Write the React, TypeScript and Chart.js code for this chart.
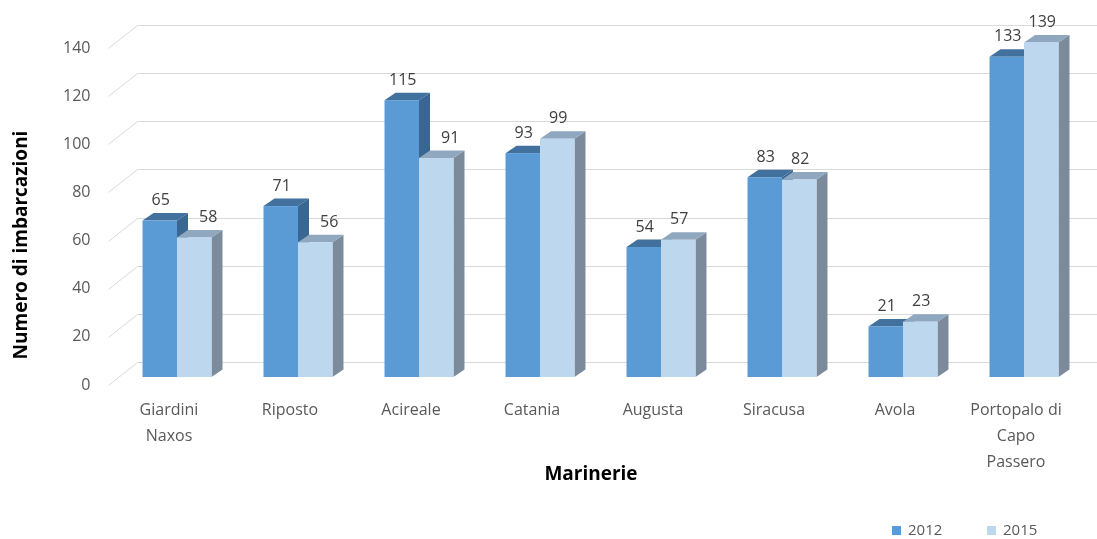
import React, { useEffect, useRef } from 'react';
import { Chart, registerables } from 'chart.js';

Chart.register(...registerables);

const categories: string[][] = [
  ['Giardini', 'Naxos'],
  ['Riposto'],
  ['Acireale'],
  ['Catania'],
  ['Augusta'],
  ['Siracusa'],
  ['Avola'],
  ['Portopalo di', 'Capo', 'Passero'],
];
const seriesNames = ['2012', '2015'];
const values2012 = [65, 71, 115, 93, 54, 83, 21, 133];
const values2015 = [58, 56, 91, 99, 57, 82, 23, 139];
const yTicks = [0, 20, 40, 60, 80, 100, 120, 140];

const FONT = '"Open Sans", "Noto Sans", sans-serif';
const frontColors = ['#5b9bd5', '#bdd7ee'];
const topColors = ['#41719c', '#8fa8bf'];
const sideColors = ['#3a6791', '#7b8b9b'];

// 3D geometry (pixels)
const WALL_DX = 29;
const WALL_DY = 23;
const BAR_SHIFT_X = 8;
const BAR_SHIFT_Y = 8;
const DEPTH_X = 11;
const DEPTH_Y = 7.5;

const bars3d = {
  id: 'bars3d',
  beforeDatasetsDraw(chart: any) {
    const { ctx, chartArea } = chart;
    const y = chart.scales.y;
    ctx.save();
    ctx.strokeStyle = '#d9d9d9';
    ctx.lineWidth = 1;
    for (const v of yTicks) {
      const yf = Math.round(y.getPixelForValue(v)) + 0.5;
      const yb = yf - WALL_DY;
      const xf = chartArea.left;
      ctx.beginPath();
      ctx.moveTo(xf, yf);
      ctx.lineTo(xf + WALL_DX, yb);
      ctx.lineTo(chart.width, yb);
      ctx.stroke();
    }
    ctx.restore();
  },
  beforeDatasetDraw() {
    return false;
  },
  afterDatasetsDraw(chart: any) {
    const { ctx } = chart;
    const n = chart.data.labels.length;
    ctx.save();
    for (let i = 0; i < n; i++) {
      for (let d = 0; d < chart.data.datasets.length; d++) {
        const el = chart.getDatasetMeta(d).data[i];
        const { x, y, base, width } = el.getProps(['x', 'y', 'base', 'width'], true);
        const x0 = x - width / 2 + BAR_SHIFT_X;
        const x1 = x0 + width;
        const yt = y - BAR_SHIFT_Y;
        const yb = base - BAR_SHIFT_Y;
        // side
        ctx.fillStyle = sideColors[d];
        ctx.beginPath();
        ctx.moveTo(x1, yt);
        ctx.lineTo(x1 + DEPTH_X, yt - DEPTH_Y);
        ctx.lineTo(x1 + DEPTH_X, yb - DEPTH_Y);
        ctx.lineTo(x1, yb);
        ctx.closePath();
        ctx.fill();
        // top
        ctx.fillStyle = topColors[d];
        ctx.beginPath();
        ctx.moveTo(x0, yt);
        ctx.lineTo(x1, yt);
        ctx.lineTo(x1 + DEPTH_X, yt - DEPTH_Y);
        ctx.lineTo(x0 + DEPTH_X, yt - DEPTH_Y);
        ctx.closePath();
        ctx.fill();
        // front
        ctx.fillStyle = frontColors[d];
        ctx.fillRect(x0, yt, width, yb - yt);
      }
    }
    // data labels
    ctx.font = '16px ' + FONT;
    ctx.fillStyle = '#404040';
    ctx.textAlign = 'center';
    ctx.textBaseline = 'middle';
    for (let i = 0; i < n; i++) {
      for (let d = 0; d < chart.data.datasets.length; d++) {
        const el = chart.getDatasetMeta(d).data[i];
        const { x, y } = el.getProps(['x', 'y'], true);
        const v = chart.data.datasets[d].data[i];
        let shift = 1;
        if (d === 1) {
          const other = chart.data.datasets[0].data[i];
          if (v < other - 2) shift = 14;
        }
        ctx.fillText(String(v), x + BAR_SHIFT_X + shift, y - BAR_SHIFT_Y - 20);
      }
    }
    ctx.restore();
  },
  afterDraw(chart: any) {
    const { ctx } = chart;
    ctx.save();
    // axis titles
    ctx.fillStyle = '#000000';
    ctx.font = 'bold 19px ' + FONT;
    ctx.textAlign = 'center';
    ctx.textBaseline = 'middle';
    ctx.fillText('Marinerie', 591, 475);
    ctx.translate(22, 245);
    ctx.rotate(-Math.PI / 2);
    ctx.fillText('Numero di imbarcazioni', 0, 0);
    ctx.restore();
    // legend
    ctx.save();
    ctx.font = '15px ' + FONT;
    ctx.textAlign = 'left';
    ctx.textBaseline = 'middle';
    const legendX = [892, 987];
    chart.data.datasets.forEach((ds: any, d: number) => {
      ctx.fillStyle = frontColors[d];
      ctx.fillRect(legendX[d], 526, 9, 9);
      ctx.fillStyle = '#595959';
      ctx.fillText(ds.label, legendX[d] + 16, 531);
    });
    ctx.restore();
  },
};

export default function App() {
  const ref = useRef<HTMLCanvasElement | null>(null);
  useEffect(() => {
    document.body.style.margin = '0';
    const canvas = ref.current;
    if (!canvas) return;
    const chart = new Chart(canvas, {
      type: 'bar',
      data: {
        labels: categories,
        datasets: [
          { label: seriesNames[0], data: values2012, backgroundColor: frontColors[0] },
          { label: seriesNames[1], data: values2015, backgroundColor: frontColors[1] },
        ],
      },
      options: {
        animation: false,
        responsive: true,
        maintainAspectRatio: false,
        layout: { padding: { top: 48, right: 20.5, left: 0, bottom: 0 } },
        datasets: { bar: { categoryPercentage: 0.57, barPercentage: 1.0 } },
        plugins: { legend: { display: false }, tooltip: { enabled: false } },
        scales: {
          x: {
            grid: { display: false, drawTicks: false },
            border: { display: false },
            ticks: {
              color: '#595959',
              font: { family: FONT, size: 16, lineHeight: 1.6 },
              padding: 13,
              maxRotation: 0,
              autoSkip: false,
            },
            afterFit: (scale: any) => {
              scale.height = 154;
            },
          },
          y: {
            min: 0,
            max: 140,
            grid: { display: false, drawTicks: false },
            border: { display: false },
            ticks: {
              stepSize: 20,
              color: '#595959',
              font: { family: FONT, size: 16 },
              padding: 18,
            },
            afterFit: (scale: any) => {
              scale.width = 108.5;
            },
          },
        },
      },
      plugins: [bars3d],
    });
    return () => chart.destroy();
  }, []);
  return (
    <div style={{ width: '1097px', height: '539px', position: 'relative' }}>
      <canvas ref={ref} />
    </div>
  );
}
